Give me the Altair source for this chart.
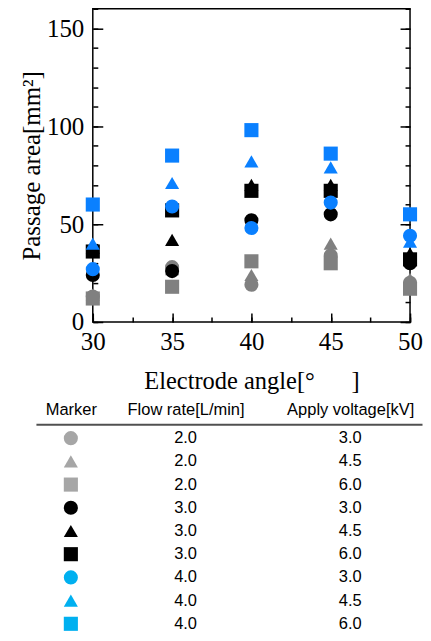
import altair as alt
import pandas as pd

# ---------------- data ----------------
angles = [30, 35, 40, 45, 50]
flow_rates = ["2.0", "2.0", "2.0", "3.0", "3.0", "3.0", "4.0", "4.0", "4.0"]
voltages = ["3.0", "4.5", "6.0", "3.0", "4.5", "6.0", "3.0", "4.5", "6.0"]
marker_shapes = ["circle", "triangle-up", "square"] * 3
plot_colors = ["#808080"] * 3 + ["#000000"] * 3 + ["#0a80ff"] * 3
table_colors = ["#a6a6a6"] * 3 + ["#000000"] * 3 + ["#00b0f0"] * 3
series_keys = [f"{f} L/min, {v} kV" for f, v in zip(flow_rates, voltages)]

# passage area [mm2] per series, at the angles above
area_gray_circle = [13, 28, 19, 34, 20]
area_gray_triangle = [14, 27, 24, 40, 22]
area_gray_square = [12, 18, 31, 30, 17]
area_black_circle = [24, 26, 52, 55, 30]
area_black_triangle = [38, 42, 70, 70, 35]
area_black_square = [36, 57, 67, 67, 32]
area_blue_circle = [27, 59, 48, 61, 44]
area_blue_triangle = [40, 71, 82, 79, 41]
area_blue_square = [60, 85, 98, 86, 55]
area_series = [area_gray_circle, area_gray_triangle, area_gray_square,
               area_black_circle, area_black_triangle, area_black_square,
               area_blue_circle, area_blue_triangle, area_blue_square]

x_domain = [30, 50]
y_domain = [0, 160]
x_major = [30, 35, 40, 45, 50]
x_minor = [30, 32.5, 35, 37.5, 40, 42.5, 45, 47.5, 50]
y_major = [0, 50, 100, 150]
y_minor = [0, 10, 20, 30, 40, 50, 60, 70, 80, 90, 100, 110, 120, 130, 140, 150, 160]
headers = ["Marker", "Flow rate[L/min]", "Apply voltage[kV]"]

rows = []
for i, (key, vals) in enumerate(zip(series_keys, area_series)):
    for a, v in zip(angles, vals):
        rows.append({"order": i, "key": key, "angle": a, "area": v})
df = pd.DataFrame(rows)

SERIF = "Liberation Serif"
SANS = "Liberation Sans"

# ---------------- layout constants (pixels) ----------------
W = 387            # common panel width (table spans all of it)
PL, PR = 57, 375   # plot frame left / right inside the panel
PH = 314           # plot height

xs = alt.Scale(domain=x_domain, range=[PL, PR], nice=False, zero=False)
ys = alt.Scale(domain=y_domain, nice=False, zero=False)

def tick_axis(values, size, orient, shift=0, labels=False, **kw):
    return alt.Axis(values=values, orient=orient, tickSize=size, offset=-(size + shift),
                    domain=False, grid=False, labels=labels, tickColor="black",
                    tickWidth=1.5, labelFlush=False, labelOverlap=False, **kw)

frame = alt.Chart(pd.DataFrame({"k": [0]})).mark_rect(
    fill="transparent", stroke="black", strokeWidth=1.5
).encode(
    x=alt.XDatum(x_domain[0], type="quantitative", scale=xs, axis=None),
    x2=alt.X2Datum(x_domain[1]),
    y=alt.YDatum(y_domain[0], type="quantitative", scale=ys, axis=None),
    y2=alt.Y2Datum(y_domain[1]),
)

points = alt.Chart(df).mark_point(filled=True, size=200, opacity=1).encode(
    x=alt.X("angle:Q", scale=xs,
            axis=tick_axis(x_major, 9, "bottom", labels=True, format="d",
                           labelFont=SERIF, labelFontSize=25, labelColor="black",
                           labelPadding=8,
                           title="Electrode angle[°\u00a0\u00a0\u00a0\u00a0\u00a0\u00a0]",
                           titleFont=SERIF, titleFontSize=24.5, titleFontWeight="normal",
                           titleColor="black", titlePadding=15)),
    y=alt.Y("area:Q", scale=ys,
            axis=tick_axis(y_major, 10, "left", shift=PL, labels=True, format="d",
                           labelFont=SERIF, labelFontSize=25, labelColor="black",
                           labelPadding=9, title="Passage area[mm²]",
                           titleFont=SERIF, titleFontSize=25, titleFontWeight="normal",
                           titleColor="black", titlePadding=2)),
    color=alt.Color("key:N", scale=alt.Scale(domain=series_keys, range=plot_colors), legend=None),
    shape=alt.Shape("key:N", scale=alt.Scale(domain=series_keys, range=marker_shapes), legend=None),
    order=alt.Order("order:Q"),
)

ghost = alt.Chart(df).mark_point(opacity=0)

minor_xy = ghost.encode(
    x=alt.X("angle:Q", scale=xs, axis=tick_axis(x_minor, 5, "bottom", title=None)),
    y=alt.Y("area:Q", scale=ys, axis=tick_axis(y_minor, 5, "left", shift=PL, title=None)),
)
right_major = ghost.encode(
    x=alt.X("angle:Q", scale=xs, axis=None),
    y=alt.Y("area:Q", scale=ys, axis=tick_axis(y_major, 10, "right", shift=W - PR, title=None)),
)
right_minor = ghost.encode(
    x=alt.X("angle:Q", scale=xs, axis=None),
    y=alt.Y("area:Q", scale=ys, axis=tick_axis(y_minor, 5, "right", shift=W - PR, title=None)),
)

top = alt.layer(frame, points, minor_xy, right_major, right_minor).resolve_scale(
    x="independent", y="independent"
).properties(width=W, height=PH)

# ---------------- table ----------------
tdf = pd.DataFrame({"idx": list(range(len(series_keys))), "key": series_keys,
                    "flow": flow_rates, "voltage": voltages})
tx = alt.Scale(domain=[-1, 0, 1, 2, 3], range=[0, 35, 150, 315, W])
ty = alt.Scale(type="point", padding=0.45, align=0.667)
label_expr = "[" + ",".join(f"'{h}'" for h in headers) + "][datum.value]"
yenc = alt.Y("idx:O", scale=ty, axis=None)

tbase = alt.Chart(tdf)
t_markers = tbase.mark_point(filled=True, size=200, opacity=1).encode(
    x=alt.XDatum(0, type="quantitative", scale=tx,
                 axis=alt.Axis(orient="top", values=[0, 1, 2], labelExpr=label_expr,
                               ticks=False, grid=False, domain=True, domainColor="#505050",
                               domainWidth=2, labelFont=SANS, labelFontSize=16.5,
                               labelColor="black", labelPadding=7, labelFlush=False,
                               labelOverlap=False, title=None)),
    y=yenc,
    color=alt.Color("key:N", scale=alt.Scale(domain=series_keys, range=table_colors), legend=None),
    shape=alt.Shape("key:N", scale=alt.Scale(domain=series_keys, range=marker_shapes), legend=None),
)
t_flow = tbase.mark_text(font=SANS, fontSize=16.5, color="black").encode(
    x=alt.XDatum(1, type="quantitative", scale=tx), y=yenc, text="flow:N")
t_volt = tbase.mark_text(font=SANS, fontSize=16.5, color="black").encode(
    x=alt.XDatum(2, type="quantitative", scale=tx), y=yenc, text="voltage:N")

table = alt.layer(t_markers, t_flow, t_volt).properties(width=W, height=207)

chart = alt.vconcat(top, table, spacing=6.5).resolve_scale(
    color="independent", shape="independent"
).properties(
    padding={"left": 11, "top": -2, "right": 0, "bottom": 0}
).configure_view(stroke="transparent")

chart.save("out.html", embed_options={"renderer": "svg", "actions": False})
